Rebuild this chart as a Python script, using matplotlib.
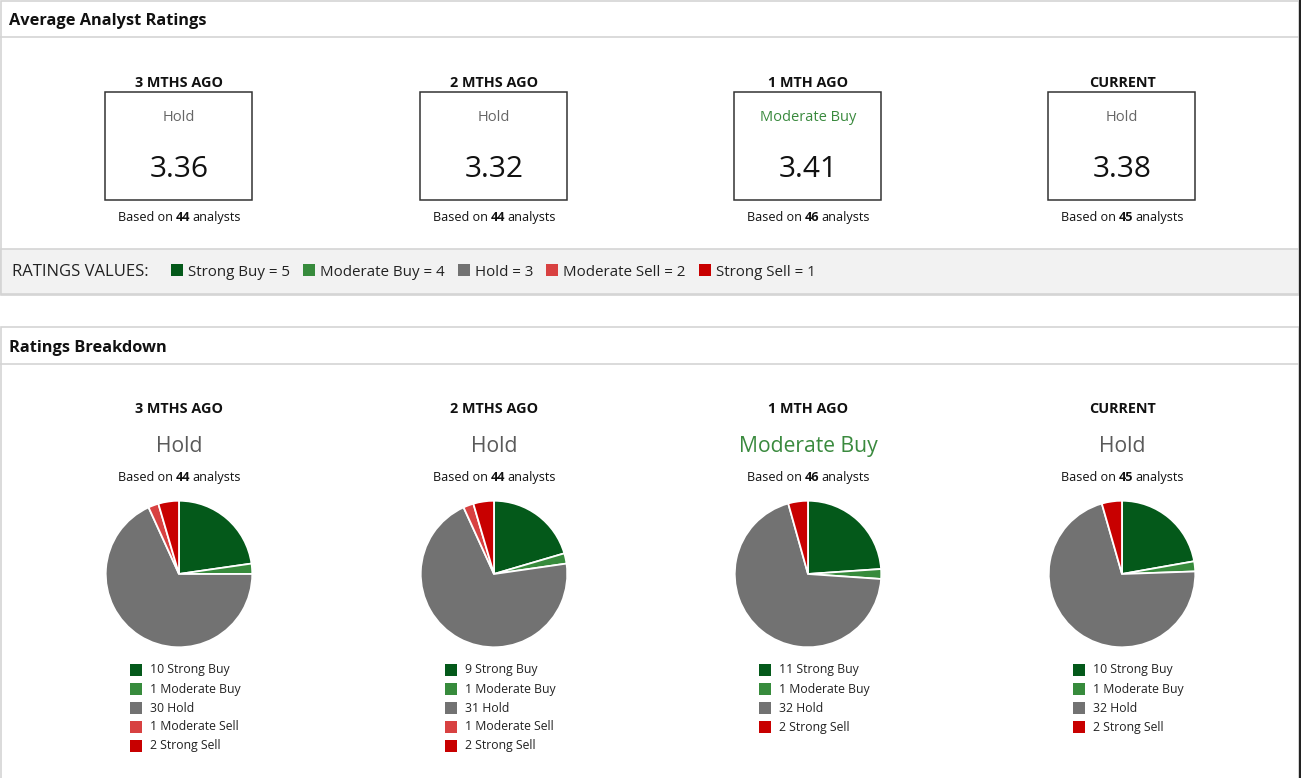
import matplotlib.pyplot as plt
from matplotlib.patches import Rectangle

plt.rcParams['font.family'] = ['Open Sans', 'DejaVu Sans']

# data
months = ['3 MTHS AGO', '2 MTHS AGO', '1 MTH AGO', 'CURRENT']
consensus = ['Hold', 'Hold', 'Moderate Buy', 'Hold']
scores = [3.36, 3.32, 3.41, 3.38]
analysts = [44, 44, 46, 45]
strong_buy = [10, 9, 11, 10]
moderate_buy = [1, 1, 1, 1]
hold = [30, 31, 32, 32]
moderate_sell = [1, 1, 0, 0]
strong_sell = [2, 2, 2, 2]

rating_names = ['Strong Buy', 'Moderate Buy', 'Hold', 'Moderate Sell', 'Strong Sell']
rating_values = [5, 4, 3, 2, 1]
rating_colors = ['#04591a', '#378b3c', '#727272', '#d84141', '#c80000']
consensus_colors = {'Hold': '#666666', 'Moderate Buy': '#3a8a3e'}

W, H = 1301, 778
fig = plt.figure(figsize=(W / 100, H / 100), dpi=100)
ax = fig.add_axes([0, 0, 1, 1])
ax.set_xlim(0, W)
ax.set_ylim(H, 0)
ax.axis('off')
renderer = fig.canvas.get_renderer()

col_x = [179, 494, 808, 1122]
border = '#d4d4d4'


def based_on(x, y, n, size=9.1, color='#111111'):
    # "Based on <b>n</b> analysts", centred on x
    gap = size * 100 / 72 * 0.27
    parts = [('Based on', 'normal', gap), (str(n), 'bold', gap - 2), ('analysts', 'normal', 0)]
    widths = []
    for s, w, g in parts:
        t = ax.text(0, 0, s, fontsize=size, fontweight=w)
        widths.append(t.get_window_extent(renderer).width)
        t.remove()
    total = sum(widths) + sum(p[2] for p in parts)
    cur = x - total / 2
    for (s, w, g), wd in zip(parts, widths):
        ax.text(cur, y, s, fontsize=size, fontweight=w, color=color, ha='left', va='center')
        cur += wd + g


def hline(y, x0=0, x1=1299, c=border):
    ax.plot([x0, x1], [y, y], color=c, lw=1.2)


# top panel
ax.add_patch(Rectangle((0.5, 0.5), 1298, 294, fill=False, ec=border, lw=1.2))
hline(37)
ax.text(9, 21, 'Average Analyst Ratings', fontsize=11.75, fontweight='bold', color='#111111', va='center')
ax.add_patch(Rectangle((0.5, 249), 1298, 45, fc='#f2f2f2', ec=border, lw=1.2))

for i, cx in enumerate(col_x):
    ax.text(cx, 83, months[i], fontsize=10.4, fontweight='bold', ha='center', va='center', color='#111111')
    ax.add_patch(Rectangle((cx - 74, 92), 147, 108, fill=False, ec='#333333', lw=1.1))
    ax.text(cx, 117, consensus[i], fontsize=10.5, ha='center', va='center',
            color=consensus_colors[consensus[i]])
    ax.text(cx, 169, f'{scores[i]:.2f}', fontsize=21.5, ha='center', va='center', color='#111111')
    based_on(cx, 217, analysts[i])

# ratings values legend
ax.text(12, 272, 'RATINGS VALUES:', fontsize=12, va='center', color='#222222')
lx = 171
for name, val, col in zip(rating_names, rating_values, rating_colors):
    ax.add_patch(Rectangle((lx, 264), 12, 12, fc=col, ec='none'))
    t = ax.text(lx + 17, 272, f'{name} = {val}', fontsize=10.9, va='center', color='#222222')
    lx += 17 + t.get_window_extent(renderer).width + 13

# bottom panel
ax.add_patch(Rectangle((0.5, 327), 1298, 452, fill=False, ec=border, lw=1.2))
hline(364)
ax.text(9, 348, 'Ratings Breakdown', fontsize=11.75, fontweight='bold', color='#111111', va='center')
ax.plot([1300, 1300], [0, H], color='#222222', lw=1.5)

counts = list(zip(strong_buy, moderate_buy, hold, moderate_sell, strong_sell))
r = 74
cy = 574
for i, cx in enumerate(col_x):
    ax.text(cx, 409, months[i], fontsize=10.4, fontweight='bold', ha='center', va='center', color='#111111')
    ax.text(cx, 446, consensus[i], fontsize=15.2, ha='center', va='center',
            color='#5a5a5a' if consensus[i] == 'Hold' else consensus_colors[consensus[i]])
    based_on(cx, 477, analysts[i])

    pax = fig.add_axes([(cx - r) / W, 1 - (cy + r) / H, 2 * r / W, 2 * r / H])
    vals = [v for v in counts[i] if v > 0]
    cols = [c for v, c in zip(counts[i], rating_colors) if v > 0]
    pax.pie(vals, colors=cols, startangle=90, counterclock=False, radius=1,
            wedgeprops=dict(edgecolor='white', linewidth=1.3))
    pax.set_xlim(-1.01, 1.01)
    pax.set_ylim(-1.01, 1.01)
    pax.axis('off')

    ly = 670
    for v, name, col in zip(counts[i], rating_names, rating_colors):
        if v == 0:
            continue
        ax.add_patch(Rectangle((cx - 49, ly - 6), 12, 12, fc=col, ec='none'))
        ax.text(cx - 29, ly, f'{v} {name}', fontsize=8.8, va='center', color='#222222')
        ly += 19

fig.savefig('out.png', dpi=100)
